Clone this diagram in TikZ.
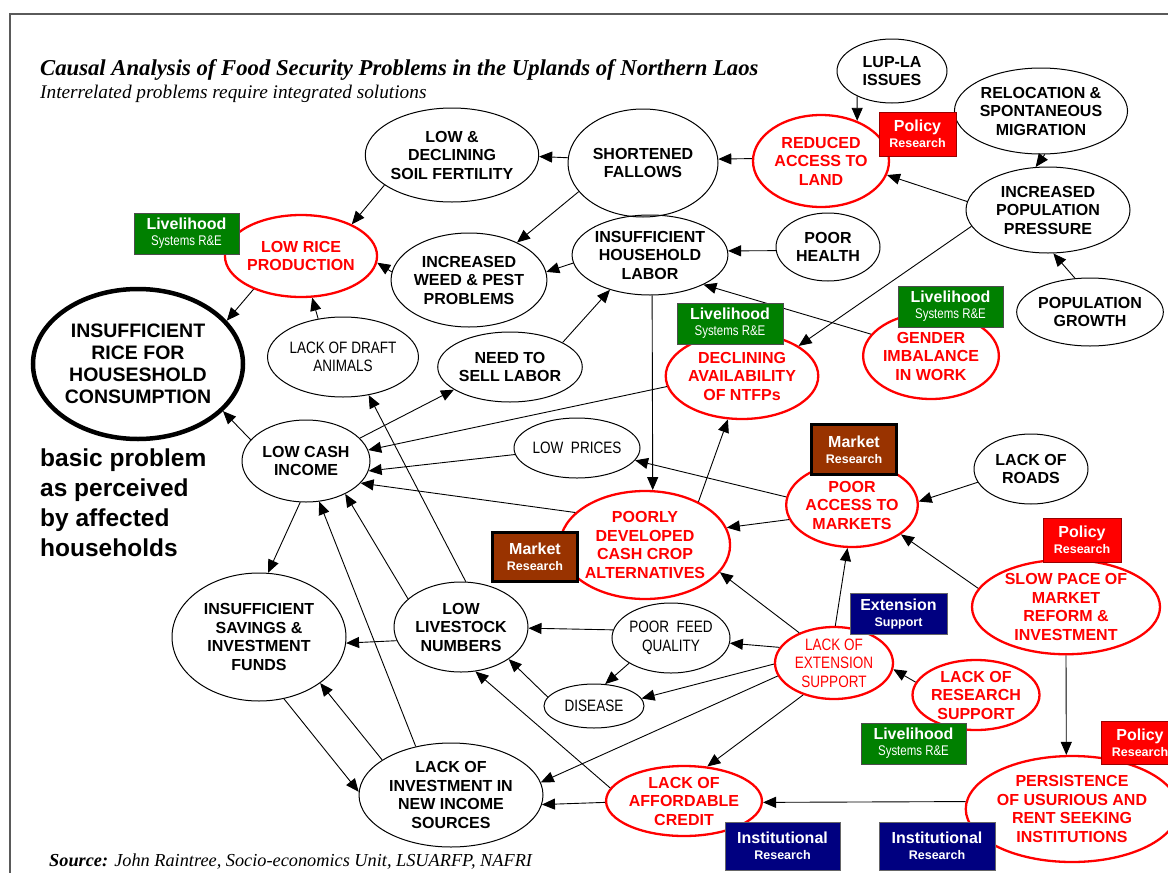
\documentclass[tikz,border=0pt]{standalone}
\usepackage{fontspec}
\setmainfont{Liberation Sans}
\newfontfamily\serifit{Liberation Serif}
\newfontfamily\narrowfont[FakeStretch=0.82]{Liberation Sans}
\usetikzlibrary{shapes.geometric,arrows.meta}

\definecolor{lhgreen}{RGB}{0,128,0}
\definecolor{mkbrown}{RGB}{153,51,0}
\definecolor{exnavy}{RGB}{0,0,128}
\definecolor{framegray}{RGB}{90,90,90}

\newcommand{\nodefont}{\fontsize{16}{18.5}\selectfont\bfseries}
\newcommand{\narrowtext}{\fontsize{16.5}{18.5}\selectfont\narrowfont}
\newcommand{\tagsmall}{\fontsize{12.5}{14}\selectfont}
\newcommand{\lhsmall}{\fontsize{14}{14}\selectfont\narrowfont\mdseries}

\begin{document}
\begin{tikzpicture}[x=1pt,y=-1pt,
    sz/.style 2 args={minimum width=#1pt, minimum height=#2pt},
    redring/.style={draw=red, text=red, line width=2.3pt},
    narrowtxt/.style={font=\narrowtext}]

        \clip (0,0) rectangle (1168,873);
        \fill[white] (0,0) rectangle (1168,873);
        \draw[framegray, line width=2pt] (10,873) -- (10,14) -- (1168,14);

        % headings
        \node[anchor=base west, inner sep=0pt, font=\serifit\fontsize{22.7}{26}\selectfont\bfseries\itshape] (44) at (40,75)
          {Causal Analysis of Food Security Problems in the Uplands of Northern Laos};
        \node[anchor=base west, inner sep=0pt, font=\serifit\fontsize{19.3}{22}\selectfont\itshape] (45) at (40,98)
          {Interrelated problems require integrated solutions};
        \node[anchor=north west, inner sep=0pt, align=left, font=\fontsize{24.5}{30}\selectfont\bfseries] (46) at (40,449)
          {basic problem\\as perceived\\by affected\\households};
        \node[anchor=base west, inner sep=0pt, font=\serifit\fontsize{18.3}{22}\selectfont\itshape] (47) at (49,866)
          {\textbf{Source:} John Raintree, Socio-economics Unit, LSUARFP, NAFRI};

        \begin{scope}[every node/.style={ellipse, draw, line width=1pt, inner sep=0pt, align=center, font=\nodefont}]
          \node[sz={110}{64}]  (1)  at (892,71)   {LUP-LA\\ISSUES};
          \node[sz={158}{86}]  (2)  at (1041,111) {RELOCATION \&\\SPONTANEOUS\\MIGRATION};
          \node[sz={136}{92}, redring] (3) at (821,161) {REDUCED\\ACCESS TO\\LAND};
          \node[sz={150}{108}] (4)  at (643,163)  {SHORTENED\\FALLOWS};
          \node[sz={150}{94}]  (5)  at (452,155)  {LOW \&\\DECLINING\\SOIL FERTILITY};
          \node[sz={164}{86}]  (6)  at (1048,210) {INCREASED\\POPULATION\\PRESSURE};
          \node[sz={126}{68}]  (7)  at (1090,312) {POPULATION\\GROWTH};
          \node[sz={138}{82}, redring] (8) at (301,256) {LOW RICE\\PRODUCTION};
          \node[sz={150}{94}]  (9)  at (469,280)  {INCREASED\\WEED \& PEST\\PROBLEMS};
          \node[sz={140}{80}]  (10) at (650,255)  {INSUFFICIENT\\HOUSEHOLD\\LABOR};
          \node[sz={104}{68}]  (11) at (828,247)  {POOR\\HEALTH};
          \node[sz={210}{150}, line width=4.5pt, font=\fontsize{19.5}{22}\selectfont\bfseries] (12) at (138,364)
            {INSUFFICIENT\\RICE FOR\\HOUSESHOLD\\CONSUMPTION};
          \node[sz={150}{80}, narrowtxt] (13) at (343,357) {LACK OF DRAFT\\ANIMALS};
          \node[sz={128}{70}]  (14) at (510,367)  {NEED TO\\SELL LABOR};
          \node[sz={150}{86}, redring] (15) at (742,376) {DECLINING\\AVAILABILITY\\OF NTFPs};
          \node[sz={130}{86}, redring] (16) at (931,356) {GENDER\\IMBALANCE\\IN WORK};
          \node[sz={128}{82}]  (17) at (306,461)  {LOW CASH\\INCOME};
          \node[sz={126}{60}, narrowtxt] (18) at (577,448) {LOW~~PRICES};
          \node[sz={114}{70}]  (19) at (1031,469) {LACK OF\\ROADS};
          \node[sz={130}{84}, redring] (20) at (852,505) {POOR\\ACCESS TO\\MARKETS};
          \node[sz={156}{108}, redring] (21) at (645,545) {POORLY\\DEVELOPED\\CASH CROP\\ALTERNATIVES};
          \node[sz={188}{92}, redring] (22) at (1066,607) {SLOW PACE OF\\MARKET\\REFORM \&\\INVESTMENT};
          \node[sz={174}{128}] (23) at (259,637)  {INSUFFICIENT\\SAVINGS \&\\INVESTMENT\\FUNDS};
          \node[sz={134}{90}]  (24) at (461,627)  {LOW\\LIVESTOCK\\NUMBERS};
          \node[sz={116}{70}, narrowtxt] (25) at (671,638) {POOR~~FEED\\QUALITY};
          \node[sz={118}{72}, redring, narrowtxt] (26) at (834,663) {LACK OF\\EXTENSION\\SUPPORT};
          \node[sz={100}{44}, narrowtxt] (27) at (594,706) {DISEASE};
          \node[sz={118}{70}, redring] (28) at (976,695) {LACK OF\\RESEARCH\\SUPPORT};
          \node[sz={176}{106}, redring] (29) at (1072,809) {PERSISTENCE\\OF USURIOUS AND\\RENT SEEKING\\INSTITUTIONS};
          \node[sz={184}{104}] (30) at (451,795)  {LACK OF\\INVESTMENT IN\\NEW INCOME\\SOURCES};
          \node[sz={128}{70}, redring] (31) at (684,801) {LACK OF\\AFFORDABLE\\CREDIT};
        \end{scope}

        \begin{scope}[every edge/.style={draw, line width=0.9pt, -{Triangle[length=13pt,width=11pt]}}]
          \path (1.216)  edge (3.48);
          \path (2.275)  edge (6.106);
          \path (6.174)  edge (3.348);
          \path (7.114)  edge (6.277);
          \path (6.192)  edge (15.28);
          \path (3.178)  edge (4.3);
          \path (4.176)  edge (5.359);
          \path (4.204)  edge (9.38);
          \path (5.204)  edge (8.32);
          \path (9.174)  edge (8.355);
          \path (10.186) edge (9.6);
          \path (11.184) edge (10.3);
          \path (16.160) edge (10.331);
          \path (14.25)  edge (10.221);
          \path (10.273) edge (21.82);
          \path (8.215)  edge (12.26);
          \path (13.123) edge (8.285);
          \path (17.159) edge (12.331);
          \path (17.23)  edge (14.202);
          \path (15.188) edge (17.10);
          \path (18.186) edge (17.351);
          \path (21.155) edge (17.338);
          \path (20.173) edge (18.348);
          \path (20.193) edge (21.12);
          \path (19.194) edge (20.3);
          \path (21.39)  edge (15.252);
          \path (22.168) edge (20.329);
          \path (22.270) edge (29.96);
          \path (29.176) edge (31.359);
          \path (26.88)  edge (20.264);
          \path (26.139) edge (21.340);
          \path (26.164) edge (25.355);
          \path (26.181) edge (27.9);
          \path (26.193) edge (30.8);
          \path (26.226) edge (31.56);
          \path (28.168) edge (26.354);
          \path (25.172) edge (24.359);
          \path (25.211) edge (27.63);
          \path (27.169) edge (24.326);
          \path (31.170) edge (24.288);
          \path (31.181) edge (30.354);
          \path (24.152) edge (17.320);
          \path (24.192) edge (23.356);
          \path (24.84)  edge (13.304);
          \path (17.262) edge (23.82);
          \path (30.126) edge (17.288);
          \path (30.153) edge (23.323);
          \path (23.292) edge (30.178);
        \end{scope}

        % research boxes
        \begin{scope}[every node/.style={rectangle, inner sep=0pt, align=center, text=white, line width=0.8pt,
            font=\fontsize{16}{16}\selectfont\bfseries}]
          \node[sz={77}{44}, fill=red, draw=red!60!black]        (32) at (917.5,134)  {Policy\\{\tagsmall Research}};
          \node[sz={105}{41}, fill=lhgreen, draw=black!70]       (33) at (186.5,233.5) {Livelihood\\{\lhsmall Systems R\&E}};
          \node[sz={106}{41}, fill=lhgreen, draw=black!70]       (34) at (730,323.5)  {Livelihood\\{\lhsmall Systems R\&E}};
          \node[sz={105}{41}, fill=lhgreen, draw=black!70]       (35) at (950.5,306.5) {Livelihood\\{\lhsmall Systems R\&E}};
          \node[sz={85}{50}, fill=mkbrown, draw=black, line width=3pt] (36) at (854,449.5) {Market\\{\tagsmall Research}};
          \node[sz={85}{49}, fill=mkbrown, draw=black, line width=3pt] (37) at (535,557)   {Market\\{\tagsmall Research}};
          \node[sz={78}{44}, fill=red, draw=red!60!black]        (38) at (1082,540)   {Policy\\{\tagsmall Research}};
          \node[sz={97}{41}, fill=exnavy, draw=black!60]         (39) at (898.5,613.5) {Extension\\{\tagsmall Support}};
          \node[sz={105}{41}, fill=lhgreen, draw=black!70]       (40) at (913.5,743.5) {Livelihood\\{\lhsmall Systems R\&E}};
          \node[sz={78}{43}, fill=red, draw=red!60!black]        (41) at (1140,742.5) {Policy\\{\tagsmall Research}};
          \node[sz={115}{48}, fill=exnavy, draw=black!60]        (42) at (782.5,846)  {Institutional\\{\tagsmall Research}};
          \node[sz={116}{48}, fill=exnavy, draw=black!60]        (43) at (937,846)    {Institutional\\{\tagsmall Research}};
        \end{scope}

      \end{tikzpicture}
\end{document}
